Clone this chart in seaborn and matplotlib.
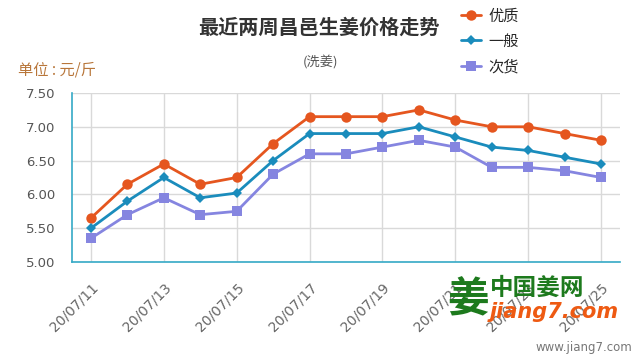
import numpy as np
import pandas as pd
import matplotlib
matplotlib.use("Agg")
from matplotlib import pyplot as plt
import seaborn as sns

# data
dates = ["20/07/11", "20/07/12", "20/07/13", "20/07/14", "20/07/15",
         "20/07/16", "20/07/17", "20/07/18", "20/07/19", "20/07/20",
         "20/07/21", "20/07/22", "20/07/23", "20/07/24", "20/07/25"]
youzhi = [5.65, 6.15, 6.45, 6.15, 6.25, 6.75, 7.15, 7.15, 7.15, 7.25,
          7.10, 7.00, 7.00, 6.90, 6.80]
yiban = [5.50, 5.90, 6.25, 5.95, 6.02, 6.50, 6.90, 6.90, 6.90, 7.00,
         6.85, 6.70, 6.65, 6.55, 6.45]
cihuo = [5.35, 5.70, 5.95, 5.70, 5.75, 6.30, 6.60, 6.60, 6.70, 6.80,
         6.70, 6.40, 6.40, 6.35, 6.25]
series_names = ["优质", "一般", "次货"]
y_ticks = [5.00, 5.50, 6.00, 6.50, 7.00, 7.50]

sns.set_style("white")
plt.rcParams['font.family'] = ['Noto Sans CJK SC', 'DejaVu Sans']

df = pd.DataFrame({"idx": np.arange(len(dates)),
                   "优质": youzhi, "一般": yiban, "次货": cihuo})
long = df.melt(id_vars="idx", var_name="grade", value_name="price")

colors = {"优质": "#E5561F", "一般": "#1A8CBC", "次货": "#8585E0"}
markers = {"优质": "o", "一般": "D", "次货": "s"}
msizes = {"优质": 7.5, "一般": 5.5, "次货": 7.5}
axis_col = "#35A9C6"

fig = plt.figure(figsize=(6.4, 3.6), dpi=100)
ax = fig.add_axes([72/640, 1 - 262/360, 548/640, 169/360])

for name in series_names:
    sub = long[long.grade == name]
    sns.lineplot(data=sub, x="idx", y="price", ax=ax, color=colors[name],
                 marker=markers[name], markersize=msizes[name],
                 markeredgewidth=0, linewidth=2, label=name, zorder=3)

ax.set_xlim(-0.52, len(dates) - 0.48)
ax.set_ylim(5.0, 7.5)
ax.set_xticks(range(0, len(dates), 2))
ax.set_xticklabels(dates[::2], rotation=45, ha="right", rotation_mode="anchor",
                   fontsize=10, color="#666666", family="DejaVu Sans")
ax.set_yticks(y_ticks)
ax.set_yticklabels(["%.2f" % v for v in y_ticks], fontsize=9.5, color="#555555",
                   family="DejaVu Sans")
ax.set_xlabel("")
ax.set_ylabel("")

ax.grid(True, color="#d9d9d9", linewidth=1)
for s in ["top", "right"]:
    ax.spines[s].set_visible(False)
for s in ["left", "bottom"]:
    ax.spines[s].set_color(axis_col)
    ax.spines[s].set_linewidth(1.2)
ax.tick_params(axis="both", direction="out", length=9, width=1.2, color=axis_col,
               pad=3)
ax.tick_params(axis="x", length=11, pad=2)

ax.legend(loc="upper left", bbox_to_anchor=(452/640, 1.005), bbox_transform=fig.transFigure,
          frameon=False, fontsize=11, handlelength=1.3, labelspacing=0.55,
          handletextpad=0.5, borderaxespad=0.2)

fig.text(319/640, 1 - 27/360, "最近两周昌邑生姜价格走势", ha="center", va="center",
         fontsize=14.5, fontweight="bold", color="#333333")
fig.text(320/640, 1 - 63/360, "(洗姜)", ha="center", va="center",
         fontsize=9.5, color="#555555")
fig.text(18/640, 1 - 70/360, "单位 : 元/斤", ha="left", va="center",
         fontsize=11, color="#B8763A")

# watermark
fig.text(490/640, 1 - 288/360, "中国姜网", ha="left", va="center",
         fontsize=17, fontweight="bold", color="#1D7A1D")
fig.text(490/640, 1 - 312/360, "jiang7.com", ha="left", va="center",
         fontsize=15, fontweight="bold", style="italic", color="#EE5A12",
         family="DejaVu Sans")
fig.text(447/640, 1 - 300/360, "姜", ha="left", va="center",
         fontsize=30, fontweight="bold", color="#1D7A1D")
fig.text(632/640, 1 - 348/360, "www.jiang7.com", ha="right", va="center",
         fontsize=8.5, color="#777777", family="DejaVu Sans")

fig.savefig("out.png", dpi=100)
